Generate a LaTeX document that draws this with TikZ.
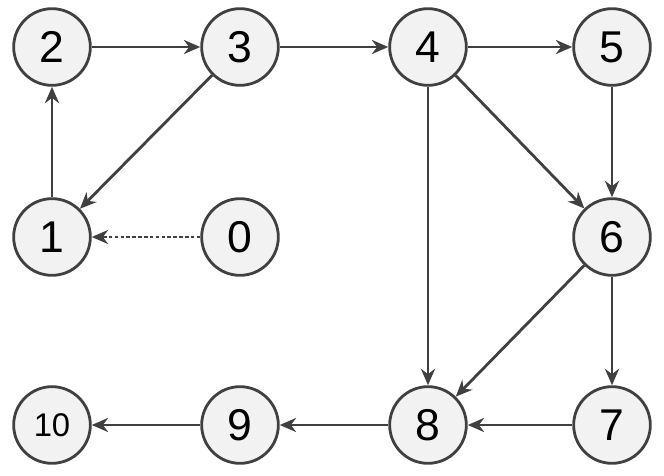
\documentclass[tikz,border=0pt]{standalone}
\usepackage{fontspec}
\setmainfont{Liberation Sans}
\usetikzlibrary{arrows.meta}
\definecolor{edgegray}{HTML}{404040}
\begin{document}
\begin{tikzpicture}
  [x=0.03cm,y=-0.03cm,every node/.style={circle,draw=edgegray,fill=black!5,line width=2.4pt,minimum size=2.3cm,inner sep=0pt,font=\fontsize{38}{40}\selectfont}]
  \useasboundingbox (0,0) rectangle (664,476);
  \node (n2) at (52,47) {2};
  \node (n3) at (240,47) {3};
  \node (n4) at (428,47) {4};
  \node (n5) at (612,47) {5};
  \node (n1) at (52,237) {1};
  \node (n0) at (240,237) {0};
  \node (n6) at (612,237) {6};
  \node[font=\fontsize{28}{30}\selectfont] (n10) at (52,425) {10};
  \node (n9) at (240,425) {9};
  \node (n8) at (428,425) {8};
  \node (n7) at (612,425) {7};

  \foreach \from/\to in {n1/n2, n2/n3, n3/n1, n3/n4, n4/n5, n4/n6, n4/n8, n5/n6, n6/n8, n6/n7, n7/n8, n8/n9, n9/n10}
    \draw[edgegray,line width=2.4pt,-{Stealth[length=14pt,width=12pt]}] (\from) -- (\to);
  \draw[edgegray,line width=2.4pt,densely dashed,-{Stealth[length=14pt,width=12pt]}] (n0) -- (n1);
\end{tikzpicture}
\end{document}
